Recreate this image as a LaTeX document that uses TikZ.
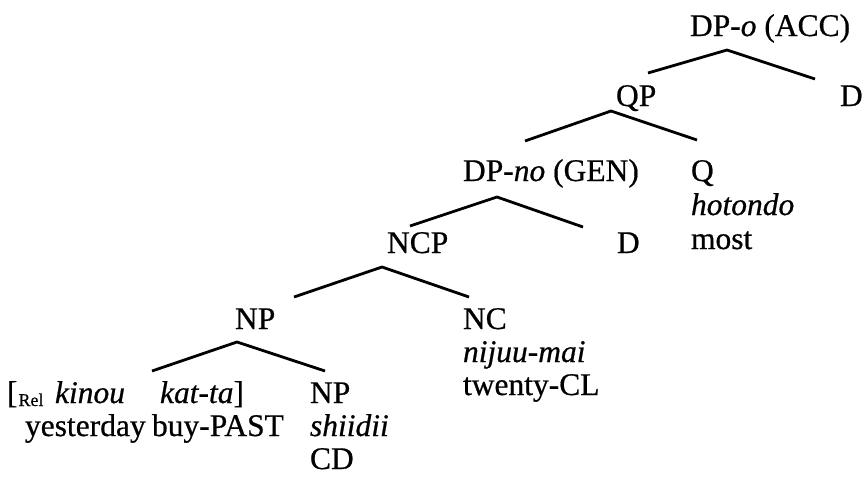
\documentclass[tikz,border=0pt]{standalone}
\usepackage{fontspec}
\setmainfont{Liberation Serif}[FakeBold=0.6]
\begin{document}
\begin{tikzpicture}[x=1pt,y=-1pt,
  lbl/.style={anchor=base west, inner sep=0pt, outer sep=0pt, font=\fontsize{31.5}{36}\selectfont},
  branch/.style={line width=2.8pt, line cap=butt, line join=miter}]
\useasboundingbox (0,0) rectangle (866,480);
% labels
\node[lbl] (dpo)  at (690,36)  {DP-\textit{o} (ACC)};
\node[lbl] (qp)   at (616,106) {QP};
\node[lbl] (d1)   at (840,106) {D};
\node[lbl] (dpno) at (463,181) {DP-\textit{no} (GEN)};
\node[lbl] (q)    at (691,181) {Q};
\node[lbl] (hot)  at (691,215) {\textit{hotondo}};
\node[lbl] (most) at (691,249) {most};
\node[lbl] (ncp)  at (387,253) {NCP};
\node[lbl] (d2)   at (617,253) {D};
\node[lbl] (np1)  at (235,329) {NP};
\node[lbl] (nc)   at (463,329) {NC};
\node[lbl] (nij)  at (463,362) {\textit{nijuu-mai}};
\node[lbl] (twe)  at (463,395) {twenty-CL};
\node[lbl] (rel)  at (7,403)   {[\kern1pt\raisebox{-3pt}{\fontsize{18}{18}\selectfont Rel}};
\node[lbl] (kin)  at (55,403)  {\textit{kinou}};
\node[lbl] (kat)  at (160,403) {\textit{kat-ta}]};
\node[lbl] (yes)  at (25,436)  {yesterday};
\node[lbl] (buy)  at (152,436) {buy-PAST};
\node[lbl] (np2)  at (310,403) {NP};
\node[lbl] (shi)  at (310,436) {\textit{shiidii}};
\node[lbl] (cd)   at (310,469) {CD};
% branch points
\coordinate (dpo-a) at (727,50);  \coordinate (qp-t) at (648,73);   \coordinate (d1-t) at (815,79);
\coordinate (qp-a)  at (611,111); \coordinate (dpno-t) at (525,141); \coordinate (q-t) at (697,140);
\coordinate (dpno-a) at (497,197); \coordinate (ncp-t) at (410,226); \coordinate (d2-t) at (583,227);
\coordinate (ncp-a) at (382,267); \coordinate (np1-t) at (294,297); \coordinate (nc-t) at (469,297);
\coordinate (np1-a) at (237,342); \coordinate (rel-t) at (152,371); \coordinate (np2-t) at (325,371);
% branches
\draw[branch] (qp-t) -- (dpo-a) -- (d1-t);
\draw[branch] (dpno-t) -- (qp-a) -- (q-t);
\draw[branch] (ncp-t) -- (dpno-a) -- (d2-t);
\draw[branch] (np1-t) -- (ncp-a) -- (nc-t);
\draw[branch] (rel-t) -- (np1-a) -- (np2-t);
\end{tikzpicture}
\end{document}
